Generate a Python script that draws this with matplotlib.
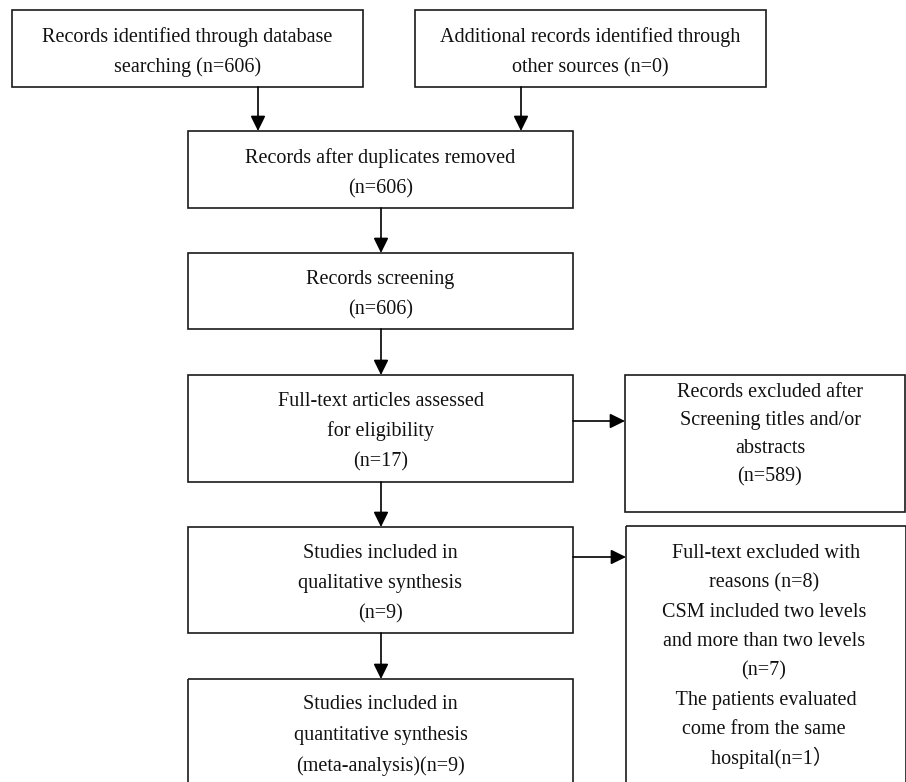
import matplotlib.pyplot as plt
from matplotlib.patches import Rectangle

# ---------------------------------------------------------------
# box texts (PRISMA flow)
# ---------------------------------------------------------------
textos = [
    "Records identified through database\nsearching (n=606)",
    "Additional records identified through\nother sources (n=0)",
    "Records after duplicates removed\n(n=606)",
    "Records screening\n(n=606)",
    "Full-text articles assessed\nfor eligibility\n(n=17)",
    "Records excluded after\nScreening titles and/or\nabstracts\n(n=589)",
    "Studies included in\nqualitative synthesis\n(n=9)",
    " Full-text excluded with\nreasons (n=8)\nCSM included two levels\nand more than two levels\n(n=7)\n The patients evaluated\ncome from the same\n   hospital(n=1\uff09",
    "Studies included in\nquantitative synthesis\n(meta-analysis)(n=9)",
]

# layout in pixels: x0, y0, x1, y1, text centre y, line step, text x shift
caixas = [
    (12, 10, 363, 87, 51, 30, 0),
    (415, 10, 766, 87, 51, 30, 0),
    (188, 131, 573, 208, 172, 30, 0),
    (188, 253, 573, 329, 293, 30, 0),
    (188, 375, 573, 482, 430, 30.5, 0),
    (625, 375, 905, 512, 433, 28.3, 5),
    (188, 527, 573, 633, 582, 30, 0),
    (626, 526, 906, 790, 655, 29.3, -2),
    (188, 679, 573, 790, 734, 31, 0),
]

# arrows: (x0, y0, x1, y1)
setas = [
    (258, 87, 258, 131),
    (521, 87, 521, 131),
    (381, 208, 381, 253),
    (381, 329, 381, 375),
    (573, 421, 625, 421),
    (381, 482, 381, 527),
    (381, 633, 381, 679),
    (573, 557, 626, 557),
]

fig = plt.figure(figsize=(9.06, 7.82), dpi=100)
ax = fig.add_axes([0, 0, 1, 1])
ax.set_xlim(0, 906)
ax.set_ylim(782, 0)
ax.axis("off")

cor = "#1a1a1a"

for (x0, y0, x1, y1, ty, passo, dx), txt in zip(caixas, textos):
    ax.add_patch(Rectangle((x0, y0), x1 - x0, y1 - y0, fill=False,
                           edgecolor=cor, linewidth=1.2, clip_on=False))
    linhas = txt.split("\n")
    n = len(linhas)
    for i, linha in enumerate(linhas):
        yb = ty + 6 + (i - (n - 1) / 2) * passo
        ax.text((x0 + x1) / 2 + dx, yb, linha, ha="center", va="baseline",
                fontsize=14.5, color="#111111",
                family=["Liberation Serif", "Noto Sans CJK SC"])

for x0, y0, x1, y1 in setas:
    ax.annotate("", xy=(x1, y1), xytext=(x0, y0),
                arrowprops=dict(arrowstyle="-|>,head_length=0.65,head_width=0.32",
                                color="black", lw=1.2,
                                shrinkA=0, shrinkB=0, mutation_scale=14))

fig.savefig("out.png", dpi=100)
